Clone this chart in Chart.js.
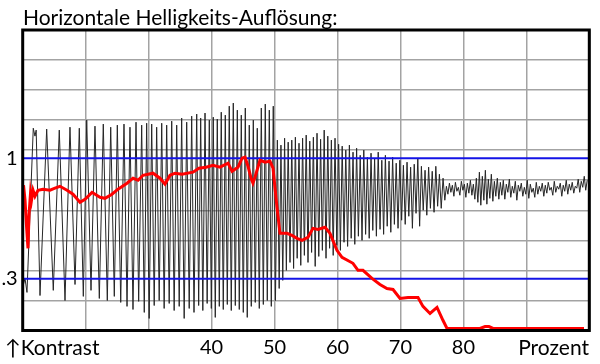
<!DOCTYPE html>
<html><head><meta charset="utf-8">
<script src="https://cdn.jsdelivr.net/npm/chart.js@4"></script>
<style>
html,body{margin:0;padding:0;background:#fff;}
#wrap{position:relative;width:600px;height:364px;overflow:hidden;font-family:Lato,sans-serif;color:#000;}
#c{position:absolute;left:0;top:0;}
.lbl{position:absolute;font-size:21px;line-height:21px;white-space:nowrap;}
</style></head><body>
<div id="wrap">
<canvas id="c" width="600" height="364"></canvas>
<div class="lbl" style="left:23px;top:6px;">Horizontale Helligkeits-Auflösung:</div>
<div class="lbl" style="left:5px;top:336px;">↑Kontrast</div>
<div class="lbl" style="right:11px;top:336px;">Prozent</div>
</div>
<script>
// ---- data (x = Prozent, y = Kontrast) ----
const xTickLabels = [40, 50, 60, 70, 80];
const yTickValues = [0.3, 1];
const yTickTexts  = ['.3', '1'];
const refLevels   = [1, 0.3];
const yMax = 1.744;

const redCurve = [[10.13,0.843],[10.37,0.756],[10.60,0.610],[10.84,0.477],[11.00,0.669],[11.24,0.797],[11.40,0.756],[11.64,0.814],[11.95,0.779],[12.43,0.814],[13.22,0.820],[14.34,0.814],[15.13,0.826],[15.92,0.837],[17.04,0.814],[17.99,0.791],[19.10,0.744],[19.90,0.762],[21.01,0.802],[22.28,0.773],[23.07,0.767],[24.18,0.791],[25.14,0.820],[26.57,0.855],[27.52,0.884],[28.32,0.872],[29.11,0.901],[30.70,0.913],[31.81,0.884],[32.60,0.849],[33.40,0.901],[34.19,0.913],[35.30,0.907],[37.05,0.919],[38.00,0.942],[39.12,0.948],[40.23,0.959],[41.34,0.948],[42.61,0.971],[43.25,0.924],[44.20,0.948],[44.84,1.000],[45.31,1.006],[45.79,0.953],[46.27,0.884],[46.58,0.855],[46.90,0.890],[47.69,0.988],[48.49,0.977],[49.28,0.983],[49.76,0.942],[50.39,0.715],[50.87,0.564],[51.98,0.564],[52.77,0.552],[53.57,0.535],[54.36,0.523],[55.31,0.541],[56.11,0.593],[56.90,0.587],[58.02,0.599],[58.81,0.564],[59.92,0.465],[60.72,0.424],[62.46,0.390],[63.26,0.349],[64.05,0.349],[65.48,0.302],[66.75,0.267],[67.86,0.244],[68.82,0.238],[69.93,0.186],[71.20,0.192],[72.79,0.192],[73.58,0.140],[74.70,0.099],[75.81,0.134],[76.77,0.058],[77.40,0.012],[82.64,0.012],[83.44,0.023],[84.07,0.023],[84.71,0.012],[99.16,0.012]];

const signalA = [[10.08,0.262],[10.37,0.302],[10.68,0.221],[11.68,1.174],[11.95,1.128],[12.14,1.163],[12.75,0.203],[13.81,1.169],[14.86,0.233],[15.81,1.163],[16.72,0.174],[17.51,1.180],[18.31,0.267],[18.99,1.174],[19.63,0.198],[20.17,1.221],[20.85,0.233],[21.48,1.186],[22.17,0.186],[22.80,1.198],[23.44,0.174],[23.98,1.180],[24.55,0.198],[25.03,1.192],[25.57,0.163],[26.09,1.198],[26.57,0.140],[27.04,1.180],[27.52,0.122],[28.00,1.209],[28.42,0.169],[28.90,1.192],[29.31,0.105],[29.69,1.203],[30.09,0.070]];

const signalB = [[30.49,1.198],[30.89,0.145],[31.28,1.180],[31.68,0.174],[32.08,1.203],[32.47,0.128],[32.87,1.192],[33.27,0.157],[33.67,1.215],[34.06,0.116],[34.46,1.192],[34.86,0.140],[35.25,1.233],[35.65,0.070],[36.05,1.209],[36.45,0.128],[36.84,1.244],[37.21,0.105],[37.64,1.256],[37.95,0.145],[38.27,1.233],[38.61,0.116],[38.96,1.262],[39.30,0.157],[39.64,1.221],[39.96,0.128],[40.27,1.238],[40.59,0.076],[40.91,1.227],[41.23,0.140],[41.54,1.267],[41.86,0.122],[42.18,1.250],[42.50,0.151],[42.81,1.302],[43.13,0.116],[43.45,1.320],[43.77,0.145],[44.09,1.279],[44.40,0.122],[44.72,1.250],[45.04,0.105],[45.36,1.291],[45.67,0.076],[45.99,1.192],[46.31,0.140],[46.63,1.221],[46.94,0.163],[47.26,1.174],[47.58,0.128],[47.90,1.291],[48.22,0.151],[48.53,1.314],[48.85,0.174],[49.17,1.279],[49.49,0.140],[49.80,1.302],[50.15,0.174]];

const signalC = [[50.45,1.105],[50.74,0.244],[51.02,1.076],[51.31,0.291],[51.60,1.116],[51.88,0.349],[52.17,1.093],[52.46,0.395],[52.74,1.105],[53.03,0.360],[53.31,1.122],[53.60,0.419],[53.89,1.087],[54.17,0.378],[54.46,1.116],[54.74,0.436],[55.03,1.134],[55.32,0.395],[55.60,1.099],[55.89,0.453],[56.17,1.122],[56.46,0.372],[56.75,1.145],[57.03,0.430],[57.32,1.110],[57.60,0.465],[57.89,1.163],[58.18,0.419],[58.46,1.128],[58.75,0.477],[59.03,1.105],[59.32,0.436],[59.61,1.116],[59.89,0.494],[60.18,1.081],[60.46,0.465],[60.75,1.070],[61.04,0.512],[61.32,1.047],[61.61,0.488],[61.89,1.076],[62.18,0.535],[62.47,1.035],[62.75,0.500],[63.04,1.058],[63.32,0.547],[63.61,1.017],[63.90,0.523],[64.18,1.047],[64.47,0.558],[64.75,1.006],[65.04,0.535],[65.33,1.029],[65.61,0.581],[65.90,1.000],[66.18,0.547],[66.47,1.035],[66.76,0.587],[67.04,0.988],[67.33,0.558],[67.61,1.017],[67.90,0.605],[68.19,0.983],[68.47,0.570],[68.76,1.006],[69.04,0.616],[69.33,0.971],[69.62,0.593],[69.90,0.988],[70.19,0.640],[70.47,0.959],[70.76,0.616],[71.05,0.977],[71.33,0.663],[71.62,0.948],[71.90,0.593],[72.19,0.965],[72.48,0.680],[72.76,1.000],[73.05,0.605],[73.33,0.953],[73.62,0.698],[73.91,0.930],[74.19,0.669],[74.48,0.948],[74.76,0.709],[75.05,0.924],[75.34,0.686],[75.62,0.953],[75.91,0.721],[76.19,0.907],[76.48,0.709],[76.77,0.884],[77.05,0.756]];

const signalD = [[77.30,0.837],[77.54,0.791],[77.78,0.855],[78.01,0.802],[78.25,0.843],[78.49,0.779],[78.73,0.860],[78.97,0.808],[79.20,0.831],[79.44,0.785],[79.68,0.866],[79.92,0.814],[80.16,0.849],[80.39,0.773],[80.63,0.855],[80.87,0.797],[81.11,0.872],[81.35,0.785],[81.58,0.849],[81.82,0.762],[82.06,0.884],[82.30,0.744],[82.54,0.919],[82.77,0.727],[83.01,0.895],[83.25,0.756],[83.49,0.930],[83.73,0.733],[83.96,0.878],[84.20,0.767],[84.44,0.907],[84.68,0.750],[84.92,0.866],[85.15,0.779],[85.39,0.884],[85.63,0.762],[85.87,0.860],[86.11,0.785],[86.34,0.872],[86.58,0.762],[86.82,0.849],[87.06,0.802],[87.30,0.878],[87.53,0.773],[87.77,0.837],[88.01,0.797],[88.25,0.866],[88.49,0.756],[88.72,0.843],[88.96,0.808],[89.20,0.855],[89.44,0.779],[89.68,0.831],[89.91,0.791],[90.15,0.872],[90.39,0.767],[90.63,0.849],[90.87,0.802],[91.10,0.826],[91.34,0.773],[91.58,0.860],[91.82,0.791],[92.06,0.837],[92.29,0.808],[92.53,0.855],[92.77,0.779],[93.01,0.843],[93.25,0.797],[93.48,0.860],[93.72,0.814],[93.96,0.831],[94.20,0.785],[94.44,0.866],[94.67,0.802],[94.91,0.837],[95.15,0.820],[95.39,0.855],[95.63,0.779],[95.86,0.843],[96.10,0.808],[96.34,0.872],[96.58,0.791],[96.82,0.849],[97.05,0.814],[97.29,0.860],[97.53,0.797],[97.77,0.837],[98.01,0.826],[98.24,0.878],[98.48,0.802],[98.72,0.866],[98.96,0.831],[99.20,0.895],[99.43,0.814],[99.67,0.872]];

// ---- chart ----
const toPts = arr => arr.map(p => ({x: p[0], y: p[1]}));
const levelPts = v => [{x: 10, y: v}, {x: 100, y: v}];
const GRID = '#a3a3a3';
const FONT = {family: 'Lato', size: 20};

const frame = {
  id: 'frame',
  afterDraw(c) {
    const a = c.chartArea, g = c.ctx;
    g.save(); g.strokeStyle = '#000'; g.lineWidth = 3;
    g.strokeRect(a.left, a.top, a.right - a.left, a.bottom - a.top);
    g.restore();
  }
};

new Chart(document.getElementById('c'), {
  type: 'line',
  data: {
    datasets: [
      {label: 'Kontrast', data: toPts(redCurve), borderColor: '#ff0000', borderWidth: 3, order: 0},
      {label: '1', data: levelPts(refLevels[0]), borderColor: '#1414e6', borderWidth: 2, order: 1},
      {label: '.3', data: levelPts(refLevels[1]), borderColor: '#1414e6', borderWidth: 2, order: 1},
      {label: 'Signal', data: toPts([].concat(signalA, signalB, signalC, signalD)), borderColor: '#262626', borderWidth: 1, order: 2}
    ]
  },
  options: {
    responsive: false, animation: false, devicePixelRatio: 1,
    elements: {point: {radius: 0}, line: {tension: 0, fill: false}},
    layout: {padding: {left: 0, right: 10.7, top: 30, bottom: 0}},
    plugins: {legend: {display: false}, tooltip: {enabled: false}},
    scales: {
      x: {
        type: 'linear', min: 10, max: 100,
        border: {display: false},
        grid: {color: GRID, lineWidth: 1.5, drawTicks: false},
        ticks: {stepSize: 10, autoSkip: false, maxRotation: 0, padding: 5, color: '#000', font: FONT,
                callback: v => xTickLabels.includes(v) ? String(v) : ''},
        afterFit: s => { s.height = 33.5; }
      },
      y: {
        type: 'linear', min: 0, max: yMax,
        border: {display: false},
        grid: {color: ctx => (ctx.tick && yTickValues.includes(ctx.tick.value)) ? 'rgba(0,0,0,0)' : GRID,
               lineWidth: 1.5, drawTicks: false},
        afterBuildTicks: s => {
          const t = [];
          for (let i = 0; i <= 10; i++) t.push({value: yMax * i / 10});
          yTickValues.forEach(v => t.push({value: v}));
          s.ticks = t.sort((a, b) => a.value - b.value);
        },
        ticks: {autoSkip: false, padding: 5, color: '#000', font: FONT,
                callback: v => { const i = yTickValues.indexOf(v); return i >= 0 ? yTickTexts[i] : ''; }},
        afterFit: s => { s.width = 22.7; }
      }
    }
  },
  plugins: [frame]
});
</script>
</body></html>
